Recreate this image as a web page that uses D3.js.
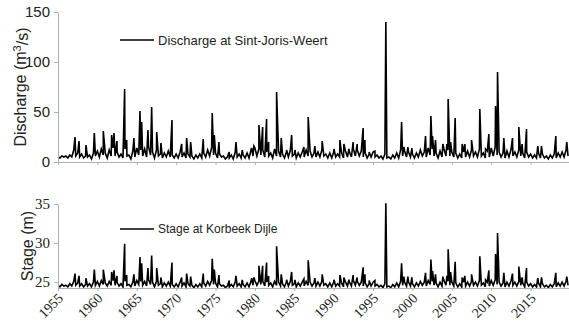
<!DOCTYPE html>
<html>
<head>
<meta charset="utf-8">
<script src="https://cdn.jsdelivr.net/npm/d3@7"></script>
<style>
  body { margin: 0; background: #fff; }
  svg { display: block; }
  .serif text, text.serif { font-family: "Liberation Serif", "DejaVu Serif", serif; }
</style>
</head>
<body>
<div id="chart"></div>
<script>
// quarterly background levels, 1955.00 .. 2019.75
const dischargeBase = [
  5,4,6,5, 6,4,7,5, 12,6,9,5, 8,4,6,5, 7,3,9,6, 11,5,13,7, 9,4,12,6, 14,6,10,5, 8,4,13,6, 7,3,11,5,
  14,7,12,6, 13,5,15,7, 10,4,12,6, 8,4,9,5, 11,5,7,4, 8,4,10,5, 9,4,8,5, 6,3,7,4, 8,4,9,5, 12,6,14,7,
  9,4,8,5, 6,3,5,4, 7,3,10,5, 8,4,7,4, 9,4,12,6, 14,6,13,7, 12,5,10,6, 9,4,13,6, 11,5,8,4, 10,5,12,6,
  8,4,9,5, 10,5,12,6, 11,5,9,5, 10,5,12,6, 8,4,9,4, 10,5,8,5, 9,4,11,5, 10,5,13,6, 12,6,11,5, 9,4,8,5,
  10,5,7,4, 6,3,8,4, 5,3,7,4, 9,4,12,6, 11,5,10,5, 8,4,9,5, 12,6,10,5, 14,7,13,6, 9,4,11,5, 13,6,12,6,
  10,5,9,4, 8,4,10,5, 11,5,12,6, 10,5,13,6, 9,4,11,5, 14,6,15,7, 10,5,9,4, 11,5,12,6, 10,5,12,6, 9,4,10,5,
  8,4,7,4, 9,4,8,4, 6,3,7,4, 8,4,9,5, 10,5,12,6
];
const stageBase = [
  24.5,24.4,24.7,24.5, 24.6,24.4,24.8,24.5, 25.1,24.6,24.9,24.5, 24.8,24.4,24.7,24.5, 24.8,24.4,25.0,24.6,
  25.1,24.5,25.2,24.7, 24.9,24.5,25.1,24.6, 25.2,24.6,25.0,24.5, 24.8,24.4,25.1,24.6, 24.7,24.4,25.0,24.5,
  25.2,24.7,25.1,24.6, 25.1,24.5,25.3,24.7, 25.0,24.4,25.1,24.6, 24.8,24.4,24.9,24.5, 25.0,24.5,24.7,24.4,
  24.8,24.4,25.0,24.5, 24.9,24.4,24.8,24.5, 24.6,24.3,24.7,24.4, 24.8,24.4,24.9,24.5, 25.1,24.6,25.2,24.7,
  24.9,24.4,24.8,24.5, 24.6,24.3,24.5,24.4, 24.7,24.4,25.0,24.5, 24.8,24.4,24.7,24.4, 24.9,24.4,25.1,24.6,
  25.2,24.6,25.1,24.7, 25.1,24.5,25.0,24.6, 24.9,24.4,25.1,24.6, 25.0,24.5,24.8,24.4, 25.0,24.5,25.1,24.6,
  24.8,24.4,24.9,24.5, 25.0,24.5,25.1,24.6, 25.0,24.5,24.9,24.5, 25.0,24.5,25.1,24.6, 24.8,24.4,24.9,24.4,
  25.0,24.5,24.8,24.5, 24.9,24.4,25.0,24.5, 25.0,24.5,25.2,24.6, 25.1,24.6,25.0,24.5, 24.9,24.4,24.8,24.5,
  25.0,24.5,24.7,24.4, 24.6,24.3,24.8,24.4, 24.5,24.3,24.7,24.4, 24.9,24.4,25.1,24.6, 25.0,24.5,25.0,24.5,
  24.8,24.4,24.9,24.5, 25.1,24.6,25.0,24.5, 25.2,24.7,25.1,24.6, 24.9,24.4,25.0,24.5, 25.2,24.6,25.1,24.6,
  25.0,24.5,24.9,24.4, 24.8,24.4,25.0,24.5, 25.0,24.5,25.1,24.6, 25.0,24.5,25.2,24.6, 24.9,24.4,25.0,24.5,
  25.2,24.6,25.3,24.7, 25.0,24.5,24.9,24.4, 25.0,24.5,25.1,24.6, 25.0,24.5,25.1,24.6, 24.9,24.4,25.0,24.5,
  24.8,24.4,24.7,24.4, 24.9,24.4,24.8,24.4, 24.6,24.3,24.7,24.4, 24.8,24.4,24.9,24.5, 25.0,24.5,25.1,24.6
];
const baseStart = 1955;
const baseStep = 0.25;

// flood peaks (decimal year) and their values in both series
const peakYears = [
  1957.16,1957.67,1958.55,1959.61,1960.75,1961.81,1962.11,1962.49,1963.46,1963.72,1964.64,1965.41,1965.62,
  1966.42,1966.89,1967.53,1968.07,1969.47,1970.70,1971.33,1971.84,1973.44,1974.58,1974.84,1975.43,1976.74,
  1977.59,1978.39,1979.58,1979.87,1980.51,1980.98,1981.48,1981.74,1982.75,1983.34,1984.02,1984.66,1985.08,
  1986.22,1986.76,1987.61,1988.54,1990.03,1990.79,1991.29,1991.93,1992.47,1992.98,1993.74,1993.96,1994.50,
  1995.23,1996.62,1998.62,1998.91,1999.42,1999.92,2001.66,2002.34,2002.55,2002.93,2003.86,2004.37,2004.53,
  2004.84,2005.42,2006.31,2006.65,2007.50,2008.55,2009.28,2009.70,2010.55,2010.80,2011.60,2012.70,2013.50,
  2013.92,2014.48,2015.91,2016.38,2018.20,2019.59
];
const dischargePeaks = [
  25,21,17,29,31,27,29,21,73,22,24,51,40,
  32,55,30,19,42,18,24,20,23,49,27,20,10,
  20,12,14,16,37,35,43,20,70,24,12,27,12,
  15,45,16,21,13,22,18,13,20,18,34,22,10,
  11,140,40,15,15,14,26,46,26,22,18,18,63,
  20,44,18,18,22,53,13,28,56,90,24,24,35,
  18,33,16,16,26,20
];
const stagePeaks = [
  26.1,25.8,25.5,26.6,26.6,26.3,26.5,25.8,29.9,25.9,26.0,28.2,27.4,
  26.8,28.4,26.8,25.6,27.5,25.6,26.1,25.7,26.1,28.0,26.6,25.9,25.2,
  25.8,25.3,25.5,25.6,27.1,27.1,27.5,25.8,29.6,26.0,25.3,26.3,25.3,
  25.4,27.8,25.5,26.0,25.3,25.9,25.6,25.3,25.9,25.6,26.9,26.0,25.2,
  25.2,35.1,27.4,25.7,25.7,25.6,26.2,27.9,26.4,26.0,25.7,25.8,29.2,
  26.3,27.6,25.6,25.8,26.0,28.3,25.3,26.5,28.6,31.3,26.2,26.1,27.0,
  25.6,26.8,25.5,25.6,26.2,25.7
];

const xTicks = [1955,1960,1965,1970,1975,1980,1985,1990,1995,2000,2005,2010,2015];

function buildSeries(base, peaks) {
  const pts = base.map((v, i) => ({t: baseStart + i * baseStep, v: v}));
  peakYears.forEach((t, i) => pts.push({t: t, v: peaks[i]}));
  return pts.sort((a, b) => a.t - b.t);
}

const W = 569, H = 321;
const svg = d3.select("#chart").append("svg").attr("width", W).attr("height", H);

const x = d3.scaleLinear().domain([1955, 2020]).range([58, 570]);
const axisColor = "#b0b0b0";
const sans = "Liberation Sans, Arial, sans-serif";

const panels = [
  {
    series: buildSeries(dischargeBase, dischargePeaks),
    y: d3.scaleLinear().domain([0, 150]).range([162, 12]),
    yTicks: [0, 50, 100, 150],
    cls: "sans",
    label: "Discharge (m",
    legend: "Discharge at Sint-Joris-Weert",
    legendSize: 13,
    labelX: 20, legendY: 40, showX: false
  },
  {
    series: buildSeries(stageBase, stagePeaks),
    y: d3.scaleLinear().domain([24.25, 35]).range([288, 204]),
    yTicks: [25, 30, 35],
    cls: "serif",
    label: "Stage (m)",
    legend: "Stage at Korbeek Dijle",
    legendSize: 12,
    labelX: 27, legendY: 229, showX: true
  }
];

panels.forEach((p, k) => {
  const g = svg.append("g").attr("class", "panel" + k);
  const [yBot, yTop] = p.y.range();

  // data line
  const line = d3.line().x(d => x(d.t)).y(d => p.y(d.v));
  g.append("path")
    .datum(p.series)
    .attr("fill", "none")
    .attr("stroke", "#000")
    .attr("stroke-width", 1.6)
    .attr("stroke-linejoin", "miter")
    .attr("d", line);

  // x axis (ticks only, labels drawn below)
  const xAxis = d3.axisBottom(x).tickValues(xTicks).tickSize(3).tickSizeOuter(0).tickFormat("");
  const xg = g.append("g").attr("transform", "translate(0," + yBot + ")").call(xAxis);
  xg.select(".domain").attr("stroke", axisColor);
  xg.selectAll(".tick line").attr("stroke", axisColor);
  if (p.showX) {
    g.append("g").attr("class", "xlabels")
      .selectAll("g")
      .data(xTicks)
      .join("g")
      .attr("transform", d => "translate(" + (x(d) + 6) + "," + (yBot + 11) + ") rotate(-45)")
      .append("text")
      .attr("class", "serif")
      .attr("text-anchor", "end")
      .attr("font-size", 14)
      .attr("fill", "#222")
      .text(d => d);
  }

  // y axis
  const yAxis = d3.axisLeft(p.y).tickValues(p.yTicks).tickSize(4).tickSizeOuter(0).tickPadding(4);
  const yg = g.append("g").attr("class", p.cls).attr("transform", "translate(58,0)").call(yAxis);
  yg.attr("font-family", null).attr("font-size", 15);
  if (p.cls === "sans") yg.attr("font-family", sans);
  yg.select(".domain").attr("stroke", axisColor);
  yg.selectAll(".tick line").attr("stroke", axisColor);
  yg.selectAll(".tick text").attr("fill", "#222");

  // y title
  const ty = g.append("text")
    .attr("transform", "translate(" + p.labelX + "," + ((yTop + yBot) / 2) + ") rotate(-90)")
    .attr("text-anchor", "middle")
    .attr("dy", "0.35em")
    .attr("font-family", sans)
    .attr("font-size", 16)
    .attr("fill", "#222")
    .text(p.label);
  if (k === 0) {
    ty.append("tspan").attr("dy", "-0.45em").attr("font-size", 11).text("3");
    ty.append("tspan").attr("dy", "0.45em").text("/s)");
  }

  // legend
  g.append("line")
    .attr("x1", 120).attr("x2", 154)
    .attr("y1", p.legendY).attr("y2", p.legendY)
    .attr("stroke", "#000").attr("stroke-width", 1.6);
  g.append("text")
    .attr("x", 158).attr("y", p.legendY)
    .attr("dy", "0.35em")
    .attr("font-family", sans)
    .attr("font-size", p.legendSize)
    .attr("fill", "#222")
    .text(p.legend);
});
</script>
</body>
</html>
